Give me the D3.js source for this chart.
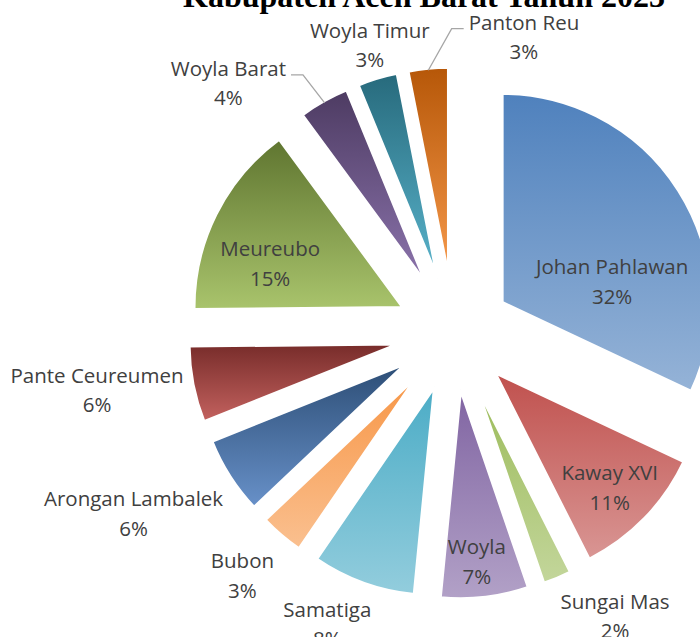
<!DOCTYPE html>
<html>
<head>
<meta charset="utf-8">
<script src="https://cdn.jsdelivr.net/npm/d3@7"></script>
<style>
  body { margin: 0; background: #fff; }
  svg { display: block; }
</style>
</head>
<body>
<div id="chart"></div>
<script>
// data (share per kecamatan, percent)
var categories = ["Johan Pahlawan", "Kaway XVI", "Sungai Mas", "Woyla", "Samatiga", "Bubon",
                  "Arongan Lambalek", "Pante Ceureumen", "Meureubo", "Woyla Barat", "Woyla Timur", "Panton Reu"];
var values = [32, 10.55, 2.2, 6.8, 8, 3.4, 6, 5.9, 15.05, 3.9, 3.1, 3.1];
var titleText = "Kabupaten Aceh Barat Tahun 2023";

// gradient colours (top -> bottom)
var topColors = ["#4f81bd", "#c0504d", "#9bbb59", "#8064a2", "#4bacc6", "#f79646",
                 "#2c4d75", "#772c2a", "#5f7530", "#4d3b62", "#276a7c", "#b65708"];
var bottomColors = ["#95b3d7", "#d99694", "#c3d69b", "#b2a1c7", "#93cddd", "#fac090",
                    "#6891c9", "#c4625f", "#a9c46c", "#8c74ad", "#5ab4cc", "#f79a4c"];

// label placement: angle (deg, clockwise from 12) and distance in radii from pie centre
var labelAngles = [72.1, 134.8, 150.4, 174.3, 203.5, 221.1, 240.6, 260.9, 290.6, 317.9, 343.7, 13.3];
var labelRadii = [0.795, 1.05, 1.56, 1.10, 1.52, 1.54, 1.76, 1.73, 0.94, 1.61, 1.435, 1.455];
var leaderLabels = ["Woyla Barat", "Panton Reu"];

var width = 700, height = 637;
var cx = 454, cy = 333, radius = 209, explode = 57;

(function(){
  var data = categories.map(function(c, i){ return { name: c, value: values[i] }; });
  var total = d3.sum(values);
  var fmt = d3.format(".0%");

  var svg = d3.select("#chart")
    .append("svg")
      .attr("width", width)
      .attr("height", height);

  // gradients
  var defs = svg.append("defs");
  categories.forEach(function(c, i){
    var grad = defs.append("linearGradient")
      .attr("id", "grad" + i)
      .attr("x1", 0).attr("y1", 0).attr("x2", 0).attr("y2", 1);
    grad.append("stop").attr("offset", "0%").attr("stop-color", topColors[i]);
    grad.append("stop").attr("offset", "100%").attr("stop-color", bottomColors[i]);
  });

  var pie = d3.pie().sort(null).value(function(d){ return d.value; });
  var arcs = pie(data);
  var arc = d3.arc().innerRadius(0).outerRadius(radius);

  var g = svg.append("g")
    .attr("transform", "translate(" + cx + "," + cy + ")");

  function mid(d){ return (d.startAngle + d.endAngle) / 2; }
  function offset(d){
    var m = mid(d);
    return [explode * Math.sin(m), -explode * Math.cos(m)];
  }

  // slices
  g.selectAll("path.slice")
    .data(arcs)
    .join("path")
      .attr("class", "slice")
      .attr("transform", function(d){ var o = offset(d); return "translate(" + o[0] + "," + o[1] + ")"; })
      .attr("d", arc)
      .attr("fill", function(d, i){ return "url(#grad" + i + ")"; })
      .attr("stroke", "#fff")
      .attr("stroke-width", 3);

  // labels
  var labels = g.selectAll("g.label")
    .data(arcs)
    .join("g")
      .attr("class", "label");

  labels.each(function(d, i){
    var a = labelAngles[i] * Math.PI / 180;
    var r = labelRadii[i] * radius;
    var x = r * Math.sin(a), y = -r * Math.cos(a);
    var t = d3.select(this).append("text")
      .attr("text-anchor", "middle")
      .style("font-family", "'Open Sans', sans-serif")
      .style("font-size", "20.5px")
      .style("fill", "#404040");
    var nameSpan = t.append("tspan").attr("x", x).attr("y", y - 7.5).text(d.data.name);
    t.append("tspan").attr("x", x).attr("y", y + 22).text(fmt(d.data.value / total));

    if (leaderLabels.indexOf(d.data.name) >= 0) {
      var w = nameSpan.node().getComputedTextLength();
      var o = offset(d), m = mid(d);
      var px = o[0] + (radius - 2) * Math.sin(m), py = o[1] - (radius - 2) * Math.cos(m);
      var side = x < px ? 1 : -1;
      var edge = x + side * w / 2;
      var ly = y - 8.5;
      d3.select(this).insert("polyline", "text")
        .attr("points", [[edge + side * 5, ly], [edge + side * 17, ly], [px, py]].map(function(p){ return p.join(","); }).join(" "))
        .attr("fill", "none")
        .attr("stroke", "#a6a6a6")
        .attr("stroke-width", 1.3);
    }
  });

  // title (top line partly outside the frame)
  svg.append("text")
    .attr("x", 424)
    .attr("y", 7)
    .attr("text-anchor", "middle")
    .style("font-family", "'Liberation Serif', 'Times New Roman', serif")
    .style("font-weight", "bold")
    .style("font-size", "32px")
    .style("fill", "#000")
    .text(titleText);
})();
</script>
</body>
</html>
